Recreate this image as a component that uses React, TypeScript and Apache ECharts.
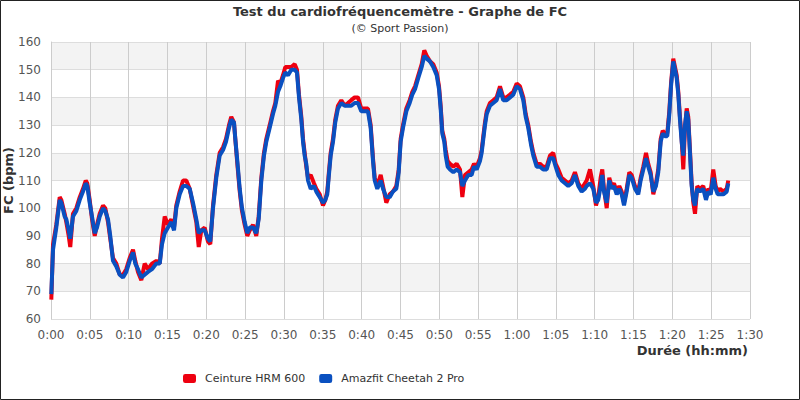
import React, { useEffect, useRef } from "react";
import * as echarts from "echarts";

const TITLE = "Test du cardiofréquencemètre - Graphe de FC";
const SUBTITLE = "(© Sport Passion)";
const SERIES_NAMES = ["Ceinture HRM 600", "Amazfit Cheetah 2 Pro"];
const X_TICK_LABELS = ["0:00","0:05","0:10","0:15","0:20","0:25","0:30","0:35","0:40","0:45","0:50","0:55","1:00","1:05","1:10","1:15","1:20","1:25","1:30"];

// elapsed time in minutes
const minutes = [
  0.04,0.26,0.68,1.12,1.33,1.76,1.97,2.28,2.48,2.83,
  3.26,3.70,4.12,4.47,4.67,4.98,5.28,5.63,5.92,6.27,
  6.70,6.99,7.34,7.63,7.98,8.41,8.85,9.27,9.69,10.13,
  10.56,10.85,11.20,11.63,12.06,12.49,13.00,13.56,14.00,14.29,
  14.64,15.06,15.49,15.84,16.13,16.57,17.00,17.42,17.86,18.28,
  18.71,19.02,19.35,19.79,20.21,20.51,20.86,21.28,21.72,22.15,
  22.53,22.92,23.21,23.56,23.73,23.99,24.30,24.59,24.94,25.27,
  25.58,26.01,26.43,26.74,27.08,27.42,27.72,28.16,28.58,28.88,
  29.23,29.52,29.87,30.17,30.52,30.94,31.38,31.67,31.93,32.23,
  32.45,32.66,32.87,33.09,33.44,33.86,34.16,34.60,35.02,35.32,
  35.57,35.75,36.01,36.31,36.60,36.95,37.38,37.81,38.24,38.66,
  39.10,39.53,39.95,40.39,40.81,41.16,41.46,41.68,42.01,42.45,
  42.75,43.17,43.61,44.03,44.46,44.77,45.02,45.32,45.75,46.18,
  46.52,46.87,47.29,47.73,48.06,48.37,48.80,49.22,49.66,49.96,
  50.17,50.38,50.64,50.82,51.07,51.37,51.80,52.23,52.66,52.96,
  53.30,53.73,54.16,54.46,54.81,55.23,55.45,55.66,55.88,56.10,
  56.52,56.95,57.38,57.81,58.23,58.67,59.10,59.52,59.96,60.38,
  60.81,61.12,61.45,61.80,62.10,62.53,62.96,63.38,63.82,64.25,
  64.67,64.98,65.32,65.75,66.18,66.60,67.04,67.46,67.89,68.33,
  68.75,68.97,69.40,69.82,70.17,70.46,70.77,70.98,71.20,71.55,
  71.88,72.19,72.49,72.84,73.17,73.48,73.78,74.12,74.46,74.77,
  75.19,75.61,75.92,76.26,76.61,76.90,77.21,77.55,77.89,78.19,
  78.50,78.76,79.05,79.35,79.61,79.83,80.12,80.34,80.56,80.77,
  80.98,81.20,81.41,81.63,81.85,82.05,82.27,82.49,82.70,82.92,
  83.21,83.56,83.98,84.33,84.63,84.94,85.27,85.58,85.84,86.13,
  86.56,87.00,87.20
];

// Ceinture HRM 600 (bpm)
const hrm600 = [
  67,87,94,104,103,98,95,90,86,98,
  100,104,107,110,109,103,96,90,94,98,
  101,100,95,89,82,80,76,76,78,82,
  85,81,77,74,80,78,80,81,80,89,
  97,94,96,93,101,106,110,110,107,101,
  95,86,92,93,88,87,101,112,120,122,
  125,130,133,131,125,116,106,99,94,90,
  92,94,90,97,111,120,125,130,135,138,
  146,145,148,151,151,151,152,150,141,133,
  125,120,115,111,112,109,107,105,101,103,
  106,112,120,125,132,137,139,137,138,139,
  140,140,136,136,136,130,118,111,108,112,
  108,102,105,106,108,114,125,130,136,139,
  142,144,148,152,157,155,153,152,149,144,
  137,128,125,121,117,116,115,116,114,104,
  112,113,114,116,115,118,121,126,131,135,
  138,139,140,144,140,140,141,142,145,144,
  140,134,130,124,120,116,116,115,115,119,
  120,116,114,111,110,109,110,113,109,107,
  109,110,114,108,101,104,111,114,107,100,
  111,108,109,106,108,106,102,107,113,112,
  108,106,111,115,120,116,113,105,109,114,
  125,128,127,127,135,145,154,151,148,142,
  133,125,114,129,136,133,121,109,102,98,
  108,107,108,104,107,106,114,108,106,107,
  106,107,110
];

// Amazfit Cheetah 2 Pro (bpm)
const cheetah = [
  69,85,93,103,102,97,96,92,89,97,
  99,103,106,109,108,102,97,91,93,97,
  100,99,96,90,81,79,76,75,77,81,
  84,80,78,75,76,77,78,80,80,87,
  91,93,95,92,100,105,108,108,107,102,
  96,91,92,92,89,88,100,111,119,121,
  124,129,132,131,125,117,107,100,95,91,
  93,93,91,96,110,119,124,129,134,137,
  142,144,147,149,148,150,150,149,140,132,
  124,119,116,110,107,108,106,104,102,103,
  105,111,119,124,131,136,138,137,137,137,
  138,138,135,135,135,129,117,110,107,110,
  107,104,104,106,107,113,124,129,135,138,
  141,143,147,151,155,154,153,151,148,143,
  136,127,124,119,115,114,113,114,113,108,
  110,112,112,115,114,117,120,125,130,134,
  137,138,139,143,139,139,140,141,144,143,
  139,133,129,123,119,115,115,114,114,118,
  118,115,112,110,109,108,109,112,108,106,
  107,108,109,107,102,103,108,112,106,102,
  110,107,108,105,107,105,101,106,112,111,
  107,105,110,114,118,115,112,106,108,113,
  124,127,126,126,134,144,153,150,147,141,
  132,124,119,130,135,132,120,108,103,101,
  107,106,107,103,106,105,111,107,105,105,
  105,106,109
];

const RED = "#ee0010";
const BLUE = "#0a50c0";
const FONT = "DejaVu Sans";

export default function App() {
  const ref = useRef<HTMLDivElement>(null);
  useEffect(() => {
    if (!ref.current) return;
    const chart = echarts.init(ref.current, undefined, { renderer: "svg" });
    const pair = (vals: number[]) => minutes.map((m, i) => [m, vals[i]]);
    chart.setOption({
      animation: false,
      backgroundColor: "#ffffff",
      textStyle: { fontFamily: FONT },
      title: {
        text: TITLE,
        subtext: SUBTITLE,
        left: "center",
        top: 0,
        itemGap: 5,
        textStyle: { fontFamily: FONT, fontSize: 13, fontWeight: "bold", color: "#333" },
        subtextStyle: { fontFamily: FONT, fontSize: 11, color: "#333" },
      },
      legend: {
        left: 178,
        top: 368,
        itemWidth: 13,
        itemHeight: 9,
        itemGap: 14,
        icon: "roundRect",
        textStyle: { fontFamily: FONT, fontSize: 11, color: "#333", padding: [0, 0, 0, 4] },
        data: SERIES_NAMES,
      },
      grid: { left: 51, right: 50, top: 42, bottom: 81, containLabel: false, outerBoundsMode: "none" },
      xAxis: {
        type: "value",
        min: 0,
        max: 90,
        interval: 5,
        axisLine: { show: false },
        axisTick: { show: false },
        axisLabel: {
          fontFamily: FONT,
          fontSize: 12,
          color: "#555",
          margin: 10,
          formatter: (v: number) => X_TICK_LABELS[Math.round(v / 5)] ?? "",
        },
        splitLine: { show: true, lineStyle: { color: "#cccccc", width: 1 } },
      },
      yAxis: {
        type: "value",
        min: 60,
        max: 160,
        interval: 10,
        name: "FC (bpm)",
        nameLocation: "middle",
        nameGap: 36,
        nameMoveOverlap: false,
        nameTextStyle: { fontFamily: FONT, fontSize: 13, fontWeight: "bold", color: "#333" },
        axisLine: { show: true, lineStyle: { color: "#cccccc" } },
        axisTick: { show: false },
        axisLabel: { fontFamily: FONT, fontSize: 12, color: "#555", margin: 10 },
        splitLine: { show: true, lineStyle: { color: "#dddddd", width: 1 } },
        splitArea: { show: true, areaStyle: { color: ["#ffffff", "#f3f3f3"] } },
      },
      graphic: [
        {
          type: "text",
          right: 52,
          top: 344,
          style: { text: "Durée (hh:mm)", fontFamily: FONT, fontSize: 13, fontWeight: "bold", fill: "#333" },
        },
        {
          type: "rect",
          shape: { x: 0.5, y: 0.5, width: 799, height: 399 },
          style: { fill: "none", stroke: "#222", lineWidth: 1 },
          silent: true,
          z: 100,
        },
      ],
      series: [
        {
          name: SERIES_NAMES[0],
          type: "line",
          data: pair(hrm600),
          showSymbol: false,
          color: RED,
          lineStyle: { width: 4, color: RED },
          z: 2,
        },
        {
          name: SERIES_NAMES[1],
          type: "line",
          data: pair(cheetah),
          showSymbol: false,
          color: BLUE,
          lineStyle: { width: 4, color: BLUE },
          z: 3,
        },
      ],
    });
    return () => chart.dispose();
  }, []);
  return (
    <div
      ref={ref}
      style={{ position: "absolute", left: 0, top: 0, width: 800, height: 400 }}
    />
  );
}
